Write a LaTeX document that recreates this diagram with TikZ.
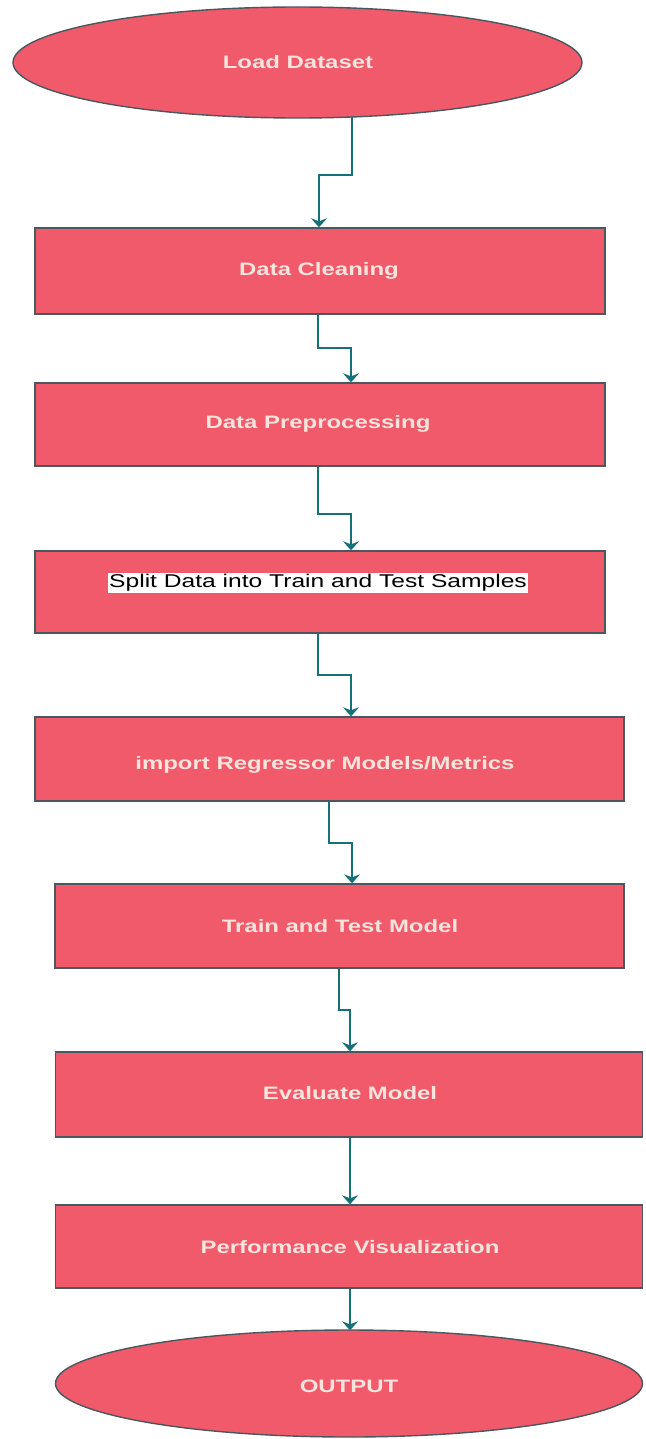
\documentclass[tikz,border=0pt]{standalone}
\usepackage{fontspec}
\usepackage{graphicx}
\setmainfont{Liberation Sans}
\usetikzlibrary{shapes.geometric,arrows.meta}
\definecolor{boxfill}{RGB}{240,90,106}
\definecolor{boxline}{RGB}{72,88,94}
\definecolor{conncol}{RGB}{22,112,122}
\definecolor{txtcol}{RGB}{250,228,220}
\newcommand{\hs}[1]{\scalebox{1.33}[1]{#1}}
\begin{document}
\begin{tikzpicture}[x=1pt,y=-1pt,
  shapebox/.style={draw=boxline,line width=1.4pt,fill=boxfill,rectangle,inner sep=0pt},
  oval/.style={draw=boxline,line width=1.4pt,fill=boxfill,ellipse,inner sep=0pt},
  lbl/.style={text=txtcol,font=\bfseries\fontsize{18}{20}\selectfont,inner sep=0pt},
  conn/.style={draw=conncol,line width=1.8pt,-{Stealth[length=9pt,width=16pt,inset=3pt]}}]
\useasboundingbox[fill=white] (0,0) rectangle (645,1439);
% shapes
\node[oval,minimum width=569pt,minimum height=111pt] (E1) at (297.5,62.5) {};
\node[shapebox,minimum width=570pt,minimum height=86pt] (B1) at (320,271) {};
\node[shapebox,minimum width=570pt,minimum height=83pt] (B2) at (320,424.5) {};
\node[shapebox,minimum width=570pt,minimum height=82pt] (B3) at (320,592) {};
\node[shapebox,minimum width=589pt,minimum height=84pt] (B4) at (329.5,759) {};
\node[shapebox,minimum width=569pt,minimum height=84pt] (B5) at (339.5,926) {};
\node[shapebox,minimum width=587pt,minimum height=85pt] (B6) at (349,1094.5) {};
\node[shapebox,minimum width=587pt,minimum height=83pt] (B7) at (349,1246.5) {};
\node[oval,minimum width=587pt,minimum height=107pt] (E2) at (349,1383.5) {};
% labels
\node[lbl] (T1) at (298,62) {\hs{Load Dataset}};
\node[lbl] (T2) at (319,271) {\hs{Data Cleaning}};
\node[lbl] (T3) at (318,424) {\hs{Data Preprocessing}};
\node[fill=white,text=black,inner sep=1.5pt,font=\fontsize{18.5}{20}\selectfont] (T4) at (318,583) {\hs{Split Data into Train and Test Samples}};
\node[lbl] (T5) at (325,765) {\hs{import Regressor Models/Metrics}};
\node[lbl] (T6) at (340,926) {\hs{Train and Test Model}};
\node[lbl] (T7) at (350,1093) {\hs{Evaluate Model}};
\node[lbl] (T8) at (350,1247) {\hs{Performance Visualization}};
\node[lbl] (T9) at (349,1386) {\hs{OUTPUT}};
% connectors
\draw[conn] ([yshift=2pt]E1.south -| 352,0) -- (352,175) -- (319,175) -- (B1.north -| 319,0);
\draw[conn] (B1.south -| 318,0) -- (318,348) -- (351,348) -- (B2.north -| 351,0);
\draw[conn] (B2.south -| 318,0) -- (318,514) -- (351,514) -- (B3.north -| 351,0);
\draw[conn] (B3.south -| 318,0) -- (318,675) -- (351,675) -- (B4.north -| 351,0);
\draw[conn] (B4.south -| 329,0) -- (329,843) -- (352,843) -- (B5.north -| 352,0);
\draw[conn] (B5.south -| 339,0) -- (339,1010) -- (350,1010) -- (B6.north -| 350,0);
\draw[conn] (B6.south -| 350,0) -- (B7.north -| 350,0);
\draw[conn] (B7.south -| 350,0) -- ([yshift=-1pt]E2.north -| 350,0);
\end{tikzpicture}
\end{document}
